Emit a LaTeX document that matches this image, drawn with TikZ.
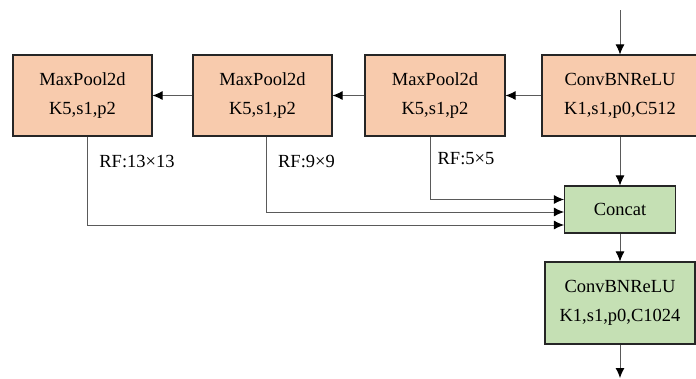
\documentclass[tikz,border=0pt]{standalone}
\usepackage{fontspec}
\setmainfont{Liberation Serif}
\usetikzlibrary{arrows.meta}
\definecolor{poolfill}{HTML}{F8CBAD}
\definecolor{catfill}{HTML}{C5E0B4}
\definecolor{wire}{HTML}{5A5A5A}

\begin{document}
\begin{tikzpicture}[x=1pt, y=-1pt, >={Latex[length=10pt,width=9pt,black]},
    poolbox/.style={draw=black!85, line width=1.1pt, fill=poolfill, align=center,
        minimum width=139pt, minimum height=81pt, inner sep=0pt,
        font=\fontsize{18.5}{29}\selectfont},
    catbox/.style={poolbox, fill=catfill},
    rflabel/.style={font=\fontsize{18.5}{22}\selectfont, inner sep=0pt},
    conn/.style={draw=wire, line width=0.9pt}]
    \useasboundingbox (0,0) rectangle (696,378);
    % main chain
    \node[poolbox] (pool1) at (82.5,95.5) {MaxPool2d\\K5,s1,p2};
    \node[poolbox] (pool2) at (262.5,95.5) {MaxPool2d\\K5,s1,p2};
    \node[poolbox, minimum width=140pt] (pool3) at (435,95.5) {MaxPool2d\\K5,s1,p2};
    \node[poolbox, minimum width=156pt] (conv1) at (620,95.5) {ConvBNReLU\\K1,s1,p0,C512};
    \node[catbox, minimum width=111pt, minimum height=47pt] (concat) at (620,209.5) {Concat};
    \node[catbox, minimum width=150pt, minimum height=82pt] (conv2) at (620,303) {ConvBNReLU\\K1,s1,p0,C1024};
    \coordinate (in) at (620,10);
    \coordinate (out) at (620,378);
    \draw[conn,->] (in) -- (conv1);
    \draw[conn,->] (conv1) -- (pool3);
    \draw[conn,->] (pool3) -- (pool2);
    \draw[conn,->] (pool2) -- (pool1);
    \draw[conn,->] (conv1) -- (concat);
    \draw[conn,->] (concat) -- (conv2);
    \draw[conn,->] (conv2) -- (out);
    % skip branches into concat
    \draw[conn,->] ([xshift=-5pt]pool3.south) |- ([yshift=10pt]concat.west);
    \draw[conn,->] ([xshift=3.5pt]pool2.south) |- ([yshift=-2.5pt]concat.west);
    \draw[conn,->] ([xshift=4.5pt]pool1.south) |- ([yshift=-15.5pt]concat.west);
    \node[rflabel] (rf1) at (137,162) {RF:13×13};
    \node[rflabel] (rf2) at (306.5,162) {RF:9×9};
    \node[rflabel] (rf3) at (466,159) {RF:5×5};
\end{tikzpicture}
\end{document}
